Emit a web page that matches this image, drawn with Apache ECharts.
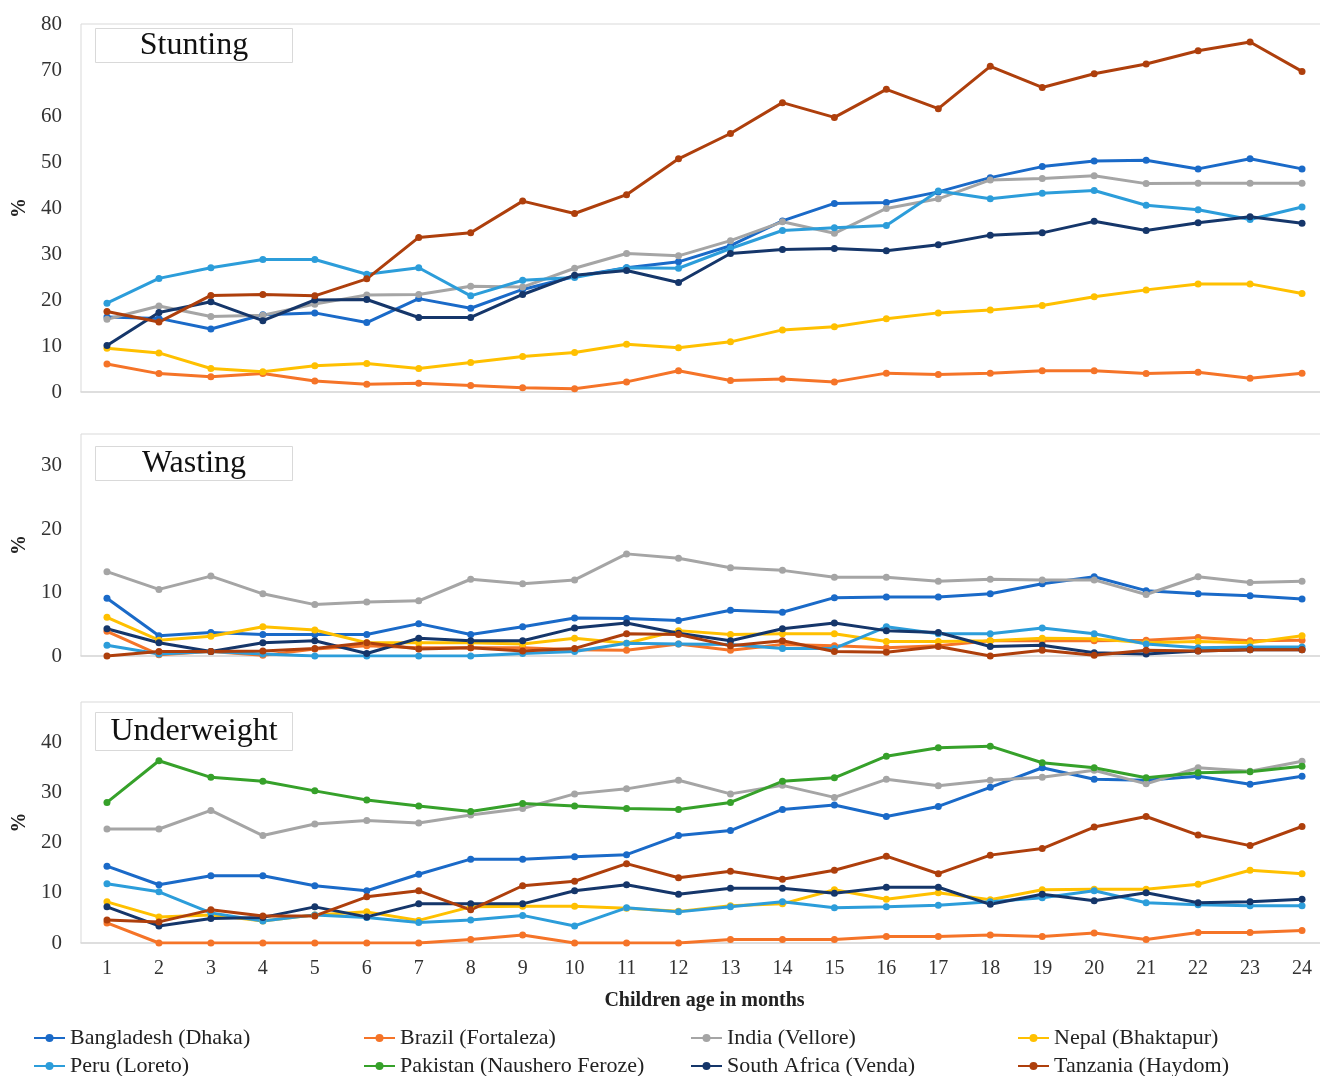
<!DOCTYPE html>
<html>
<head>
<meta charset="utf-8">
<script src="https://cdn.jsdelivr.net/npm/echarts@6/dist/echarts.min.js"></script>
<style>
html,body{margin:0;padding:0;background:#fff;}
#chart{width:1320px;height:1076px;}
</style>
</head>
<body>
<div id="chart"></div>
<script>
// ---------- DATA ----------
const months = ['1','2','3','4','5','6','7','8','9','10','11','12','13','14','15','16','17','18','19','20','21','22','23','24'];
const countryNames = ['Bangladesh (Dhaka)','Brazil (Fortaleza)','India (Vellore)','Nepal (Bhaktapur)','Peru (Loreto)','Pakistan (Naushero Feroze)','South Africa (Venda)','Tanzania (Haydom)'];
const panelTitles = ['Stunting','Wasting','Underweight'];
const xAxisTitle = 'Children age in months';
const yAxisTitle = '%';
const stuntingTicks = [0,10,20,30,40,50,60,70,80];
const wastingTicks = [0,10,20,30];
const underweightTicks = [0,10,20,30,40];

// Stunting (%)
const stuntingBangladesh = [16.3,16.0,13.7,16.8,17.2,15.1,20.3,18.2,22.3,25.1,27.0,28.3,31.8,37.2,41.0,41.2,43.5,46.6,49.0,50.2,50.4,48.5,50.7,48.5];
const stuntingBrazil = [6.1,4.0,3.3,4.0,2.4,1.7,1.9,1.4,0.9,0.7,2.2,4.6,2.5,2.8,2.2,4.1,3.8,4.1,4.6,4.6,4.0,4.3,3.0,4.1];
const stuntingIndia = [15.8,18.7,16.4,16.7,19.1,21.1,21.2,23.0,22.8,26.9,30.1,29.6,32.9,37.0,34.5,39.9,42.0,46.1,46.4,47.0,45.3,45.4,45.4,45.4];
const stuntingNepal = [9.5,8.5,5.1,4.4,5.7,6.2,5.1,6.4,7.7,8.6,10.4,9.6,10.9,13.5,14.2,15.9,17.2,17.8,18.8,20.7,22.2,23.5,23.5,21.4];
const stuntingPeru = [19.3,24.7,27.0,28.8,28.8,25.6,27.0,20.9,24.3,24.9,27.0,26.9,31.2,35.1,35.7,36.2,43.7,42.0,43.2,43.8,40.6,39.6,37.5,40.2];
const stuntingSouthAfrica = [10.1,17.3,19.6,15.5,20.0,20.1,16.2,16.2,21.2,25.4,26.4,23.8,30.1,31.0,31.2,30.7,32.0,34.1,34.6,37.1,35.1,36.8,38.1,36.7];
const stuntingTanzania = [17.5,15.2,21.0,21.2,20.9,24.6,33.6,34.6,41.5,38.8,42.9,50.7,56.2,62.9,59.7,65.8,61.6,70.8,66.2,69.2,71.3,74.2,76.1,69.7];

// Wasting (%)
const wastingBangladesh = [9.1,3.2,3.7,3.4,3.4,3.4,5.1,3.4,4.6,6.0,5.9,5.6,7.2,6.9,9.2,9.3,9.3,9.8,11.4,12.5,10.3,9.8,9.5,9.0];
const wastingBrazil = [3.9,0.2,0.7,0.1,1.1,1.6,1.3,1.3,1.3,1.0,0.9,1.9,0.9,1.8,1.6,1.3,1.6,2.4,2.4,2.4,2.5,2.9,2.4,2.5];
const wastingIndia = [13.3,10.5,12.6,9.8,8.1,8.5,8.7,12.1,11.4,12.0,16.1,15.4,13.9,13.5,12.4,12.4,11.8,12.1,12.0,12.0,9.7,12.5,11.6,11.8];
const wastingNepal = [6.1,2.5,3.1,4.6,4.1,2.1,2.1,2.1,1.9,2.8,2.0,4.0,3.4,3.5,3.5,2.3,2.3,2.4,2.8,2.7,2.1,2.3,2.1,3.2];
const wastingPeru = [1.7,0.3,0.7,0.3,0.0,0.0,0.0,0.0,0.4,0.7,2.0,1.9,1.8,1.2,1.2,4.6,3.5,3.5,4.4,3.5,1.9,1.3,1.4,1.4];
const wastingSouthAfrica = [4.3,2.1,0.7,2.1,2.4,0.4,2.8,2.4,2.4,4.4,5.2,3.6,2.4,4.3,5.2,4.0,3.7,1.5,1.7,0.5,0.3,0.8,1.0,1.0];
const wastingTanzania = [0.0,0.7,0.7,0.8,1.2,2.1,1.1,1.3,0.8,1.2,3.5,3.4,1.6,2.4,0.7,0.6,1.5,0.0,0.9,0.1,0.9,0.8,1.0,1.0];

// Underweight (%)
const underweightBangladesh = [15.3,11.6,13.4,13.4,11.4,10.4,13.7,16.7,16.7,17.2,17.6,21.4,22.4,26.6,27.5,25.2,27.2,31.0,34.9,32.6,32.4,33.2,31.6,33.2];
const underweightBrazil = [4.0,0,0,0,0,0,0,0.7,1.6,0,0,0,0.7,0.7,0.7,1.3,1.3,1.6,1.3,2.0,0.7,2.1,2.1,2.5];
const underweightIndia = [22.7,22.7,26.4,21.4,23.7,24.4,23.9,25.5,26.8,29.7,30.7,32.4,29.7,31.4,29.0,32.6,31.3,32.4,33.0,34.4,31.7,34.9,34.2,36.2];
const underweightNepal = [8.2,5.2,5.6,4.4,5.6,6.2,4.5,7.2,7.3,7.3,6.9,6.3,7.4,7.8,10.6,8.7,10.0,8.6,10.6,10.7,10.7,11.7,14.5,13.8];
const underweightPeru = [11.8,10.2,6.0,4.4,5.6,5.1,4.1,4.6,5.5,3.4,7.0,6.2,7.2,8.2,7.0,7.2,7.5,8.2,9.0,10.4,8.0,7.6,7.4,7.4];
const underweightPakistan = [28.0,36.3,33.0,32.2,30.3,28.5,27.3,26.2,27.8,27.3,26.8,26.6,28.0,32.2,32.9,37.2,38.9,39.2,35.9,34.9,32.9,33.9,34.1,35.2];
const underweightSouthAfrica = [7.2,3.4,4.9,5.1,7.2,5.2,7.8,7.8,7.8,10.4,11.6,9.7,10.9,10.9,9.9,11.1,11.1,7.7,9.7,8.4,10.0,8.0,8.2,8.7];
const underweightTanzania = [4.6,4.2,6.6,5.4,5.4,9.2,10.4,6.6,11.4,12.3,15.8,13.0,14.3,12.7,14.5,17.3,13.8,17.5,18.8,23.1,25.2,21.5,19.4,23.2];

// ---------- STYLE ----------
const countryColors = {
  'Bangladesh (Dhaka)': '#1A6AC8',
  'Brazil (Fortaleza)': '#F57428',
  'India (Vellore)': '#A5A5A5',
  'Nepal (Bhaktapur)': '#FFC000',
  'Peru (Loreto)': '#2C9DDA',
  'Pakistan (Naushero Feroze)': '#36A12A',
  'South Africa (Venda)': '#15366A',
  'Tanzania (Haydom)': '#AE3F0C'
};
const FONT = '"Liberation Serif","Times New Roman",serif';
const TEXT = '#333333';
const BORDER = '#D9D9D9';

const panels = [
  { top: 24, height: 368, max: 80, ticks: stuntingTicks, data: [
      ['Bangladesh (Dhaka)', stuntingBangladesh], ['Brazil (Fortaleza)', stuntingBrazil], ['India (Vellore)', stuntingIndia],
      ['Nepal (Bhaktapur)', stuntingNepal], ['Peru (Loreto)', stuntingPeru], ['South Africa (Venda)', stuntingSouthAfrica],
      ['Tanzania (Haydom)', stuntingTanzania]] },
  { top: 434, height: 222, max: 35, ticks: wastingTicks, data: [
      ['Bangladesh (Dhaka)', wastingBangladesh], ['Brazil (Fortaleza)', wastingBrazil], ['India (Vellore)', wastingIndia],
      ['Nepal (Bhaktapur)', wastingNepal], ['Peru (Loreto)', wastingPeru], ['South Africa (Venda)', wastingSouthAfrica],
      ['Tanzania (Haydom)', wastingTanzania]] },
  { top: 702, height: 241, max: 48, ticks: underweightTicks, data: [
      ['Bangladesh (Dhaka)', underweightBangladesh], ['Brazil (Fortaleza)', underweightBrazil], ['India (Vellore)', underweightIndia],
      ['Nepal (Bhaktapur)', underweightNepal], ['Peru (Loreto)', underweightPeru], ['Pakistan (Naushero Feroze)', underweightPakistan],
      ['South Africa (Venda)', underweightSouthAfrica], ['Tanzania (Haydom)', underweightTanzania]] }
];

const grids = [], xAxes = [], yAxes = [], series = [];
panels.forEach((p, i) => {
  grids.push({ left: 81, top: p.top, width: 1247, height: p.height, outerBoundsMode: 'none', containLabel: false,
    show: true, borderColor: BORDER, borderWidth: 1, backgroundColor: 'transparent' });
  const last = i === panels.length - 1;
  xAxes.push({
    type: 'category', gridIndex: i, data: months, boundaryGap: true,
    axisLine: { show: true, lineStyle: { color: BORDER, width: 1.5 } },
    axisTick: { show: false },
    axisLabel: { show: last, fontFamily: FONT, fontSize: 20, color: TEXT, margin: 16, interval: 0 },
    splitLine: { show: false },
    name: last ? xAxisTitle : '', nameLocation: 'middle', nameGap: 48,
    nameTextStyle: { fontFamily: FONT, fontSize: 20, fontWeight: 'bold', color: '#222' }
  });
  const allowed = p.ticks;
  yAxes.push({
    type: 'value', gridIndex: i, min: 0, max: p.max, interval: 10,
    axisLine: { show: false }, axisTick: { show: false }, splitLine: { show: false },
    axisLabel: { fontFamily: FONT, fontSize: 21, color: TEXT, margin: 19,
      formatter: v => (allowed.indexOf(v) >= 0 ? String(v) : '') },
    name: yAxisTitle, nameLocation: 'middle', nameGap: 49, nameRotate: 90,
    nameTextStyle: { fontFamily: FONT, fontSize: 20, fontWeight: 'bold', color: '#222' }
  });
  p.data.forEach(([name, vals]) => {
    series.push({
      type: 'line', name, xAxisIndex: i, yAxisIndex: i, data: vals,
      symbol: 'circle', symbolSize: 7, showSymbol: true,
      lineStyle: { width: 3, color: countryColors[name] },
      itemStyle: { color: countryColors[name] },
      emphasis: { disabled: true }, animation: false
    });
  });
});

const legendCols = [33, 363, 690, 1017];
const legendRows = [1027, 1055];
const legends = countryNames.map((n, k) => ({
  data: [n], left: legendCols[k % 4], top: legendRows[Math.floor(k / 4)],
  padding: 0, itemWidth: 31, itemHeight: 10, itemGap: 0, selectedMode: false,
  textStyle: { fontFamily: FONT, fontSize: 22, color: '#222' }
}));

const boxes = [
  { y: 28, h: 34, t: panelTitles[0] },
  { y: 446, h: 34, t: panelTitles[1] },
  { y: 712, h: 38, t: panelTitles[2] }
];
const graphics = [];
boxes.forEach(b => {
  graphics.push({ type: 'rect', left: 95, top: b.y, shape: { width: 197, height: b.h }, style: { fill: '#fff', stroke: BORDER, lineWidth: 1 }, z: 100 });
  graphics.push({ type: 'text', x: 194, y: b.y + b.h / 2 + 1, style: { text: b.t, fontFamily: FONT, fontSize: 32, fill: '#111', align: 'center', verticalAlign: 'middle' }, z: 101 });
});

const chart = echarts.init(document.getElementById('chart'), null, { renderer: 'canvas' });
chart.setOption({
  backgroundColor: '#ffffff',
  animation: false,
  grid: grids, xAxis: xAxes, yAxis: yAxes, series,
  legend: legends,
  graphic: graphics
});
</script>
</body>
</html>
